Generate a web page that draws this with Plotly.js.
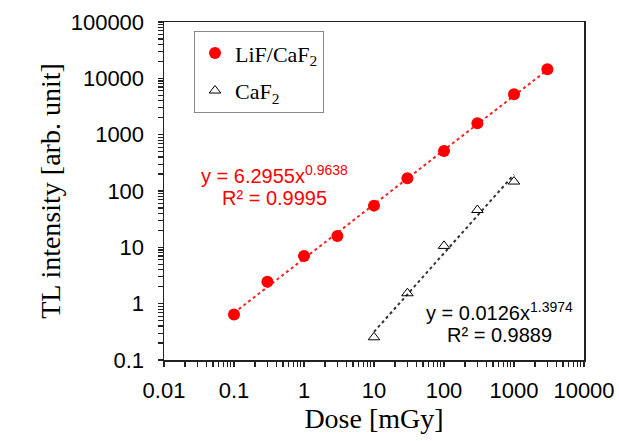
<!DOCTYPE html>
<html>
<head>
<meta charset="utf-8">
<script src="https://cdn.plot.ly/plotly-3.0.1.min.js"></script>
<style>html,body{margin:0;padding:0;background:#fff;}#chart{width:619px;height:441px;}</style>
</head>
<body>
<div id="chart"></div>
<script>
// Data
const lifDose = [0.1, 0.3, 1, 3, 10, 30, 100, 300, 1000, 3000];
const lifTL   = [0.64, 2.45, 7.0, 15.9, 55, 168, 515, 1600, 5240, 14560];
const cafDose = [10, 30, 100, 300, 1000];
const cafTL   = [0.253, 1.53, 10.6, 46, 147];
// Power-law trendlines (end points of the fitted lines)
const lifFitX = [0.1, 3000];
const lifFitY = [0.685, 14130];
const cafFitX = [10, 1000];
const cafFitY = [0.315, 196];
const xTickVals = [0.01, 0.1, 1, 10, 100, 1000, 10000];
const xTickText = ['0.01', '0.1', '1', '10', '100', '1000', '10000'];
const yTickVals = [0.1, 1, 10, 100, 1000, 10000, 100000];
const yTickText = ['0.1', '1', '10', '100', '1000', '10000', '100000'];
const lifEq = ['y = 6.2955x<sup>0.9638</sup>', 'R² = 0.9995'];
const cafEq = ['y = 0.0126x<sup>1.3974</sup>', 'R² = 0.9889'];

// major ticks with labels plus unlabeled minor ticks (2..9 within each decade)
function withMinor(vals, text) {
  const tv = [], tt = [];
  for (let i = 0; i < vals.length; i++) {
    tv.push(vals[i]); tt.push(text[i]);
    if (i < vals.length - 1) {
      for (let m = 2; m <= 9; m++) { tv.push(vals[i] * m); tt.push(''); }
    }
  }
  return {tickvals: tv, ticktext: tt};
}
const xt = withMinor(xTickVals, xTickText);
const yt = withMinor(yTickVals, yTickText);

const sans = 'Liberation Sans, Arial, sans-serif';
const serif = 'Liberation Serif, Times New Roman, serif';

const traces = [
  {x: lifFitX, y: lifFitY, mode: 'lines', line: {color: '#ff2020', width: 2, dash: 'dot'}, showlegend: false, hoverinfo: 'skip'},
  {x: cafFitX, y: cafFitY, mode: 'lines', line: {color: '#333333', width: 2, dash: 'dot'}, showlegend: false, hoverinfo: 'skip'},
  {x: lifDose, y: lifTL, mode: 'markers', name: 'LiF/CaF<sub>2</sub>', legendgroup: 'a',
   marker: {symbol: 'circle', size: 12, color: '#ff0000'}},
  {x: cafDose, y: cafTL, mode: 'markers', name: 'CaF<sub>2</sub>', legendgroup: 'b',
   marker: {symbol: 'triangle-up-open', size: 10, color: '#000000', line: {width: 1, color: '#000000'}}}
];

const axisCommon = {
  type: 'log', showgrid: false, zeroline: false, showline: true, mirror: true,
  linecolor: '#222', linewidth: 1.5, ticks: 'outside', ticklen: 5, tickcolor: '#222', tickwidth: 1.2,
  tickmode: 'array', tickfont: {family: sans, size: 22, color: '#000'}
};

const layout = {
  width: 619, height: 441,
  margin: {l: 164, r: 35, t: 22, b: 81},
  paper_bgcolor: '#fff', plot_bgcolor: '#fff',
  xaxis: Object.assign({}, axisCommon, {
    range: [-2, 4], tickvals: xt.tickvals, ticktext: xt.ticktext, ticklabelstandoff: 5,
    title: {text: 'Dose [mGy]', font: {family: serif, size: 28, color: '#000'}, standoff: 6}
  }),
  yaxis: Object.assign({}, axisCommon, {
    range: [-1, 5], tickvals: yt.tickvals, ticktext: yt.ticktext, ticklabelstandoff: 9,
    title: {text: 'TL intensity [arb. unit]', font: {family: serif, size: 28, color: '#000'}, standoff: 2}
  }),
  legend: {
    x: 0.0714, y: 0.973, xanchor: 'left', yanchor: 'top',
    bordercolor: '#888', borderwidth: 1, bgcolor: '#fff',
    font: {family: serif, size: 22, color: '#000'},
    traceorder: 'grouped', tracegroupgap: 6, itemwidth: 30
  },
  showlegend: true,
  annotations: [
    {xref: 'paper', yref: 'paper', x: 0.262, y: (360 - 174) / 338, text: lifEq[0], showarrow: false,
     font: {family: sans, size: 20, color: '#ff0000'}, xanchor: 'center', yanchor: 'middle'},
    {xref: 'paper', yref: 'paper', x: 0.262, y: (360 - 198) / 338, text: lifEq[1], showarrow: false,
     font: {family: sans, size: 20, color: '#ff0000'}, xanchor: 'center', yanchor: 'middle'},
    {xref: 'paper', yref: 'paper', x: 0.798, y: (360 - 311) / 338, text: cafEq[0], showarrow: false,
     font: {family: sans, size: 20, color: '#000'}, xanchor: 'center', yanchor: 'middle'},
    {xref: 'paper', yref: 'paper', x: 0.798, y: (360 - 335) / 338, text: cafEq[1], showarrow: false,
     font: {family: sans, size: 20, color: '#000'}, xanchor: 'center', yanchor: 'middle'}
  ]
};

Plotly.newPlot('chart', traces, layout, {displayModeBar: false, staticPlot: true});
</script>
</body>
</html>
